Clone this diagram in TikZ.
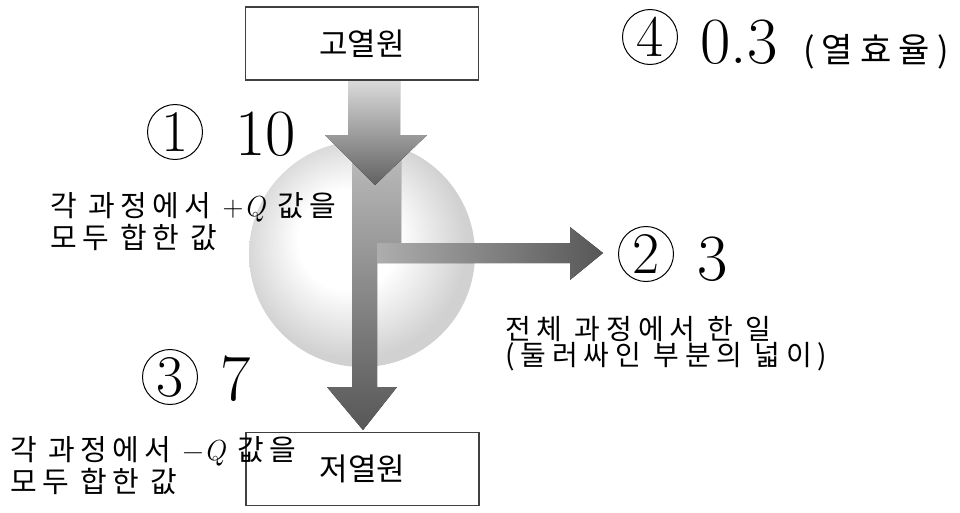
\documentclass[tikz,border=0pt]{standalone}
\usepackage{fontspec}
\newfontfamily\krfont{Noto Sans CJK KR}
\newfontfamily\krnote[LetterSpace=18]{Noto Sans CJK KR}
\newfontfamily\krwide[LetterSpace=21]{Noto Sans CJK KR}
\pgfdeclareradialshading{engineball}{\pgfpoint{-4bp}{4bp}}{color(0bp)=(white);
  color(11bp)=(white); color(25bp)=(black!18); color(50bp)=(black!18)}
\begin{document}
\begin{tikzpicture}[x=1pt, y=-1pt,
    heatbox/.style={draw=black!75, line width=1.2pt, fill=white, minimum width=233pt,
      minimum height=73pt, inner sep=0pt, font=\krfont\fontsize{31}{31}\selectfont},
    circnum/.style={circle, draw, line width=1pt, minimum size=55pt, inner sep=0pt,
      font=\fontsize{59}{59}\selectfont},
    numval/.style={anchor=base west, inner sep=0pt, font=\fontsize{66}{66}\selectfont},
    note/.style={anchor=north west, align=left, inner sep=0pt,
      font=\krnote\fontsize{29}{32}\selectfont}]
  \useasboundingbox (0,0) rectangle (960,512);

  % engine
  \node[circle, minimum size=226pt, inner sep=0pt, shading=engineball] (engine)
    at (362,254) {};

  % split flow: work to the right, rest down
  \fill[top color=black!25, bottom color=black!66]
    (352,140) -- (401,140) -- (401,243) -- (377,243) -- (377,387) -- (397,387)
    -- (363,430) -- (327,387) -- (352,387) -- cycle;
  \fill[left color=black!32, right color=black!66]
    (377,243) -- (570,243) -- (570,227) -- (603,253) -- (570,280) -- (570,263)
    -- (377,263) -- cycle;
  % heat in
  \fill[top color=black!14, bottom color=black!62]
    (348,80) -- (400,80) -- (400,135) -- (427,135) -- (375,185) -- (325,135)
    -- (348,135) -- cycle;

  \node[heatbox] (hot) at (362,43.5) {고열원};
  \node[heatbox] (cold) at (362.5,469) {저열원};

  \node[circnum] (c1) at (175,132) {1};
  \node[numval] (v1) at (235,155) {10};
  \node[note] (q1) at (50,192) {각 과정에서 {\rmfamily +\textit{Q}} 값을\\모두 합한 값};

  \node[circnum] (c2) at (646,254) {2};
  \node[numval] (v2) at (697,280) {3};
  \node[note, font=\krwide\fontsize{28}{26}\selectfont] (w) at (505,316)
    {전체 과정에서 한 일\\(둘러싸인 부분의 넓이)};

  \node[circnum] (c3) at (170,377) {3};
  \node[numval] (v3) at (220,400) {7};
  \node[note] (q2) at (10,436) {각 과정에서 {\rmfamily −\textit{Q}} 값을\\모두 합한 값};

  \node[circnum] (c4) at (650,37) {4};
  \node[numval] (v4) at (700,63) {0.3};
  \node[anchor=base west, inner sep=0pt, font=\krwide\fontsize{34}{34}\selectfont]
    (eff) at (803,62) {(열효율)};
\end{tikzpicture}
\end{document}
